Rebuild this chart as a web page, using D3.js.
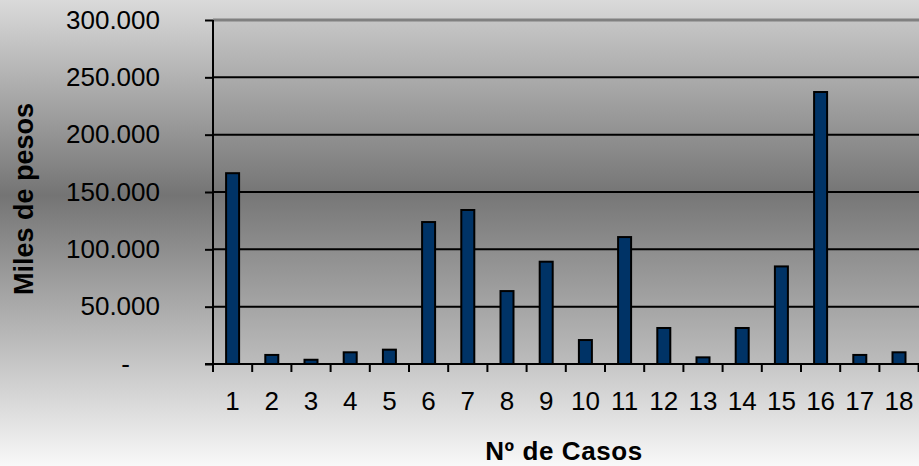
<html>
  <head>
    <meta charset="utf-8" />
    <style>
      body {
        margin: 0;
        overflow: hidden;
      }
      svg {
        display: block;
        font-family: "Liberation Sans", Arial, sans-serif;
      }
    </style>
  </head>
  <body>
    <script src="https://d3js.org/d3.v7.min.js"></script>
    <script>
      // DATA
      const casos = d3.range(1, 19).map(String);
      const miles = [
        166400, 7900, 3700, 10200, 12500, 123800, 134300, 63600, 89200, 20900,
        110700, 31400, 5800, 31400, 85100, 237200, 7900, 10200,
      ];
      const yTicks = [0, 50000, 100000, 150000, 200000, 250000, 300000];

      const width = 919;
      const height = 466;
      const plotLeft = 213;
      const plotRight = 918.6;
      const plotTop = 20;
      const plotBottom = 364;

      const svg = d3
        .select("body")
        .append("svg")
        .attr("width", width)
        .attr("height", height);

      // gradients for chart area and plot area
      const defs = svg.append("defs");
      const outerGrad = defs
        .append("linearGradient")
        .attr("id", "outerGrad")
        .attr("x1", 0)
        .attr("y1", 0)
        .attr("x2", 0)
        .attr("y2", 1);
      outerGrad.append("stop").attr("offset", "0%").attr("stop-color", "#dadada");
      outerGrad.append("stop").attr("offset", "42%").attr("stop-color", "#747474");
      outerGrad.append("stop").attr("offset", "100%").attr("stop-color", "#f8f8f8");

      const plotGrad = defs
        .append("linearGradient")
        .attr("id", "plotGrad")
        .attr("x1", 0)
        .attr("y1", 0)
        .attr("x2", 0)
        .attr("y2", 1);
      plotGrad.append("stop").attr("offset", "0%").attr("stop-color", "#c6c6c6");
      plotGrad.append("stop").attr("offset", "50%").attr("stop-color", "#767676");
      plotGrad.append("stop").attr("offset", "100%").attr("stop-color", "#bcbcbc");

      svg
        .append("rect")
        .attr("width", width)
        .attr("height", height)
        .attr("fill", "url(#outerGrad)");

      svg
        .append("rect")
        .attr("x", plotLeft)
        .attr("y", plotTop)
        .attr("width", width - plotLeft)
        .attr("height", plotBottom - plotTop)
        .attr("fill", "url(#plotGrad)");

      // SCALES
      const xScale = d3.scaleBand().domain(casos).range([plotLeft, plotRight]);
      const yScale = d3.scaleLinear().domain([0, 300000]).range([plotBottom, plotTop]);

      const locale = d3.formatLocale({
        decimal: ",",
        thousands: ".",
        grouping: [3],
        currency: ["$", ""],
      });
      const fmt = locale.format(",d");

      // gridlines
      svg
        .append("g")
        .selectAll("line")
        .data(yTicks.filter((d) => d > 0))
        .enter()
        .append("line")
        .attr("x1", plotLeft)
        .attr("x2", width)
        .attr("y1", (d) => yScale(d))
        .attr("y2", (d) => yScale(d))
        .attr("stroke", (d) => (d === 300000 ? "#808080" : "#000"))
        .attr("stroke-width", (d) => (d === 300000 ? 3 : 2));

      // bars
      const barW = 13;
      svg
        .append("g")
        .selectAll("rect")
        .data(miles)
        .enter()
        .append("rect")
        .attr("x", (d, i) => xScale(casos[i]) + xScale.bandwidth() / 2 - barW / 2)
        .attr("y", (d) => yScale(d))
        .attr("width", barW)
        .attr("height", (d) => yScale(0) - yScale(d))
        .attr("fill", "#003366")
        .attr("stroke", "#000")
        .attr("stroke-width", 2);

      // y axis
      const yAxis = d3
        .axisLeft(yScale)
        .tickValues(yTicks)
        .tickSize(8)
        .tickPadding(45)
        .tickFormat((d) => (d === 0 ? "-" : fmt(d)));

      const gy = svg
        .append("g")
        .attr("class", "y-axis")
        .attr("transform", `translate(${plotLeft}, 0)`)
        .call(yAxis);
      gy.select(".domain").remove();
      gy.selectAll("line").attr("stroke", "#000").attr("stroke-width", 2);
      gy.selectAll("text")
        .attr("font-size", 26)
        .attr("fill", "#000")
        .attr("font-family", "Liberation Sans, Arial, sans-serif");
      gy.selectAll("text")
        .filter((d) => d === 0)
        .attr("dx", -30);

      svg
        .append("line")
        .attr("x1", plotLeft)
        .attr("x2", plotLeft)
        .attr("y1", plotTop)
        .attr("y2", plotBottom + 8)
        .attr("stroke", "#000")
        .attr("stroke-width", 2);

      // x axis
      const xAxis = d3.axisBottom(xScale).tickSize(0).tickPadding(28);
      const gx = svg
        .append("g")
        .attr("class", "x-axis")
        .attr("transform", `translate(0, ${plotBottom})`)
        .call(xAxis);
      gx.select(".domain").remove();
      gx.selectAll("text")
        .attr("font-size", 26)
        .attr("fill", "#000")
        .attr("font-family", "Liberation Sans, Arial, sans-serif");

      svg
        .append("line")
        .attr("x1", plotLeft - 8)
        .attr("x2", width)
        .attr("y1", plotBottom)
        .attr("y2", plotBottom)
        .attr("stroke", "#000")
        .attr("stroke-width", 2);

      // tick marks between categories
      svg
        .append("g")
        .selectAll("line")
        .data(casos)
        .enter()
        .append("line")
        .attr("x1", (d) => xScale(d) + xScale.bandwidth())
        .attr("x2", (d) => xScale(d) + xScale.bandwidth())
        .attr("y1", plotBottom)
        .attr("y2", plotBottom + 8)
        .attr("stroke", "#000")
        .attr("stroke-width", 2);

      // axis titles
      svg
        .append("text")
        .attr("x", 564)
        .attr("y", 460)
        .attr("text-anchor", "middle")
        .attr("font-size", 26)
        .attr("font-weight", "bold")
        .attr("letter-spacing", 0.6)
        .text("Nº de Casos");

      svg
        .append("text")
        .attr("transform", "translate(33, 199) rotate(-90)")
        .attr("text-anchor", "middle")
        .attr("font-size", 27)
        .attr("font-weight", "bold")
        .text("Miles de pesos");
    </script>
  </body>
</html>
